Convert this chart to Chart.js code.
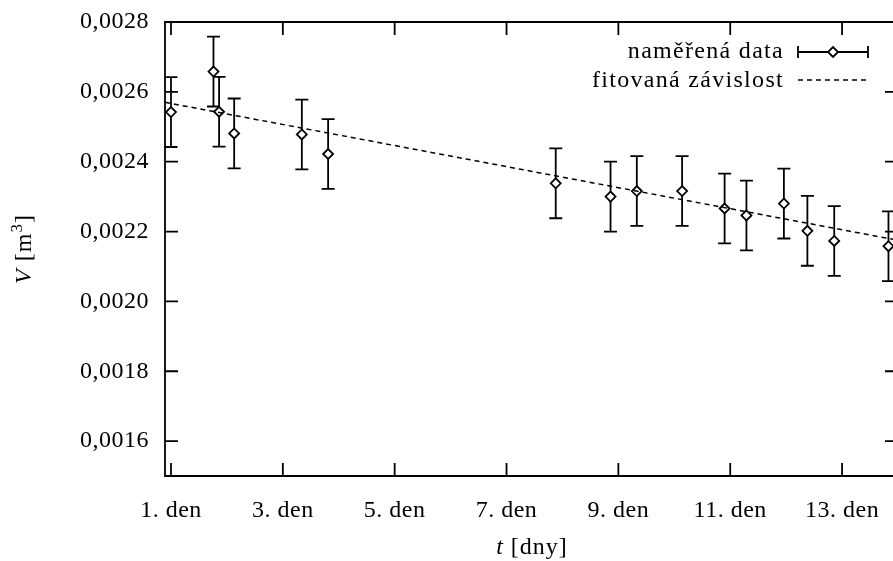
<!DOCTYPE html>
<html>
<head>
<meta charset="utf-8">
<script src="https://cdn.jsdelivr.net/npm/chart.js@4.4.1/dist/chart.umd.min.js"></script>
<style>
  html, body { margin: 0; padding: 0; background: #fff; overflow: hidden; }
</style>
</head>
<body>
<canvas id="chart" width="893" height="561"></canvas>
<script>
const days = [1.0, 1.76, 1.86, 2.13, 3.34, 3.81, 7.88, 8.86, 9.33, 10.14, 10.9, 11.29, 11.96, 12.38, 12.86, 13.83];
const volumes = [0.002542, 0.002658, 0.002543, 0.002481, 0.002478, 0.002422, 0.002338, 0.0023, 0.002316, 0.002316, 0.002266, 0.002246, 0.00228, 0.002202, 0.002173, 0.002158];
const volumeErr = [0.0001, 0.0001, 0.0001, 0.0001, 0.0001, 0.0001, 0.0001, 0.0001, 0.0001, 0.0001, 0.0001, 0.0001, 0.0001, 0.0001, 0.0001, 0.0001];

// fitted line, end points
const fitDays = [0.893, 14];
const fitVolumes = [0.00257, 0.002175];

const xTicks = [1, 3, 5, 7, 9, 11, 13];
const yTicks = [0.0016, 0.0018, 0.002, 0.0022, 0.0024, 0.0026, 0.0028];
const seriesNames = ['naměřená data', 'fitovaná závislost'];

// the plot box runs to day 14, just past the visible window
const xMin = 0.893, xFrameEnd = 14, xVisibleEnd = 13.911;

const FONT = "'Liberation Serif', 'Times New Roman', serif";
const LW = 1.8;

function errorBar(ctx, px, top, bot, cap) {
  ctx.moveTo(px, top); ctx.lineTo(px, bot);
  ctx.moveTo(px - cap, top); ctx.lineTo(px + cap, top);
  ctx.moveTo(px - cap, bot); ctx.lineTo(px + cap, bot);
}

function diamond(ctx, cx, cy, r) {
  ctx.beginPath();
  ctx.moveTo(cx, cy - r); ctx.lineTo(cx + r, cy);
  ctx.lineTo(cx, cy + r); ctx.lineTo(cx - r, cy);
  ctx.closePath();
  ctx.fillStyle = '#fff'; ctx.fill(); ctx.stroke();
  ctx.fillStyle = '#000';
}

// draws text pieces with their own fonts, one after another
function mixedText(ctx, parts, x, y) {
  let total = 0;
  parts.forEach(p => { ctx.font = p.font; total += ctx.measureText(p.text).width; });
  let cx = x - total / 2;
  parts.forEach(p => {
    ctx.font = p.font;
    ctx.fillText(p.text, cx, y + (p.dy || 0));
    cx += ctx.measureText(p.text).width;
  });
}

function noPad(s) {
  s.paddingTop = 0; s.paddingBottom = 0;
  s.paddingLeft = 0; s.paddingRight = 0;
}

const errorBars = {
  id: 'errorBars',
  beforeDraw(chart) {
    chart.ctx.letterSpacing = '0.5px';
  },
  beforeDatasetsDraw(chart) {
    const { ctx, scales: { x, y } } = chart;
    ctx.save();
    ctx.strokeStyle = '#000';
    ctx.lineWidth = LW;
    ctx.beginPath();
    days.forEach((d, i) => {
      errorBar(ctx, x.getPixelForValue(d),
        y.getPixelForValue(volumes[i] + volumeErr[i]),
        y.getPixelForValue(volumes[i] - volumeErr[i]), 6.5);
    });
    ctx.stroke();
    ctx.restore();
  }
};

const frame = {
  id: 'frame',
  afterDraw(chart) {
    const { ctx, chartArea: a, scales: { x, y } } = chart;
    const right = x.getPixelForValue(xFrameEnd);
    ctx.save();
    ctx.strokeStyle = '#000';
    ctx.fillStyle = '#000';
    ctx.lineWidth = LW;
    ctx.beginPath();
    ctx.rect(a.left, a.top, right - a.left, a.bottom - a.top);
    xTicks.forEach(t => {
      const px = x.getPixelForValue(t);
      ctx.moveTo(px, a.bottom); ctx.lineTo(px, a.bottom - 13);
      ctx.moveTo(px, a.top); ctx.lineTo(px, a.top + 13);
    });
    yTicks.forEach(t => {
      const py = y.getPixelForValue(t);
      ctx.moveTo(a.left, py); ctx.lineTo(a.left + 13, py);
      ctx.moveTo(right, py); ctx.lineTo(right - 13, py);
    });
    ctx.stroke();

    // legend
    ctx.letterSpacing = '1.3px';
    ctx.font = '24px ' + FONT;
    ctx.textAlign = 'right';
    ctx.textBaseline = 'alphabetic';
    ctx.fillText(seriesNames[0], 784, 58);
    ctx.fillText(seriesNames[1], 784, 86.5);
    ctx.beginPath();
    ctx.moveTo(798, 52); ctx.lineTo(868, 52);
    ctx.moveTo(798, 46); ctx.lineTo(798, 58);
    ctx.moveTo(868, 46); ctx.lineTo(868, 58);
    ctx.stroke();
    diamond(ctx, 833, 52, 5);
    ctx.beginPath();
    ctx.setLineDash([5, 4]);
    ctx.lineWidth = 1.5;
    ctx.moveTo(798, 80); ctx.lineTo(868, 80);
    ctx.stroke();
    ctx.setLineDash([]);

    // axis titles
    ctx.textAlign = 'left';
    ctx.letterSpacing = '1px';
    mixedText(ctx, [
      { text: 't', font: 'italic 24px ' + FONT },
      { text: ' [dny]', font: '24px ' + FONT }
    ], 532, 554);
    ctx.save();
    ctx.translate(31, (a.top + a.bottom) / 2);
    ctx.rotate(-Math.PI / 2);
    mixedText(ctx, [
      { text: 'V', font: 'italic 24px ' + FONT },
      { text: ' [m', font: '24px ' + FONT },
      { text: '3', font: '17px ' + FONT, dy: -9 },
      { text: ']', font: '24px ' + FONT }
    ], 0, 0);
    ctx.restore();
    ctx.restore();
  }
};

new Chart(document.getElementById('chart'), {
  type: 'scatter',
  data: {
    datasets: [
      {
        label: seriesNames[1],
        type: 'line',
        data: fitDays.map((d, i) => ({ x: d, y: fitVolumes[i] })),
        borderColor: '#000',
        borderWidth: 1.5,
        borderDash: [5, 4],
        pointRadius: 0,
        fill: false
      },
      {
        label: seriesNames[0],
        data: days.map((d, i) => ({ x: d, y: volumes[i] })),
        pointStyle: 'rectRot',
        pointRadius: 5,
        pointBorderWidth: LW,
        borderColor: '#000',
        backgroundColor: '#fff'
      }
    ]
  },
  options: {
    responsive: false,
    devicePixelRatio: 1,
    animation: false,
    clip: false,
    layout: { autoPadding: false, padding: { top: 22, right: 0, left: 0, bottom: 0 } },
    plugins: { legend: { display: false }, tooltip: { enabled: false } },
    scales: {
      x: {
        type: 'linear',
        min: xMin,
        max: xVisibleEnd,
        border: { display: false },
        grid: { display: false, drawTicks: false },
        afterBuildTicks: s => { s.ticks = xTicks.map(v => ({ value: v })); },
        afterFit: s => { s.height = 85; noPad(s); },
        ticks: {
          color: '#000',
          padding: 20,
          font: { family: FONT, size: 24 },
          callback: v => v + '. den'
        }
      },
      y: {
        min: 0.0015,
        max: 0.0028,
        border: { display: false },
        grid: { display: false, drawTicks: false },
        afterBuildTicks: s => { s.ticks = yTicks.map(v => ({ value: v })); },
        afterFit: s => { s.width = 165; noPad(s); },
        ticks: {
          color: '#000',
          padding: 16,
          font: { family: FONT, size: 24 },
          callback: v => v.toFixed(4).replace('.', ',')
        }
      }
    }
  },
  plugins: [errorBars, frame]
});
</script>
</body>
</html>
